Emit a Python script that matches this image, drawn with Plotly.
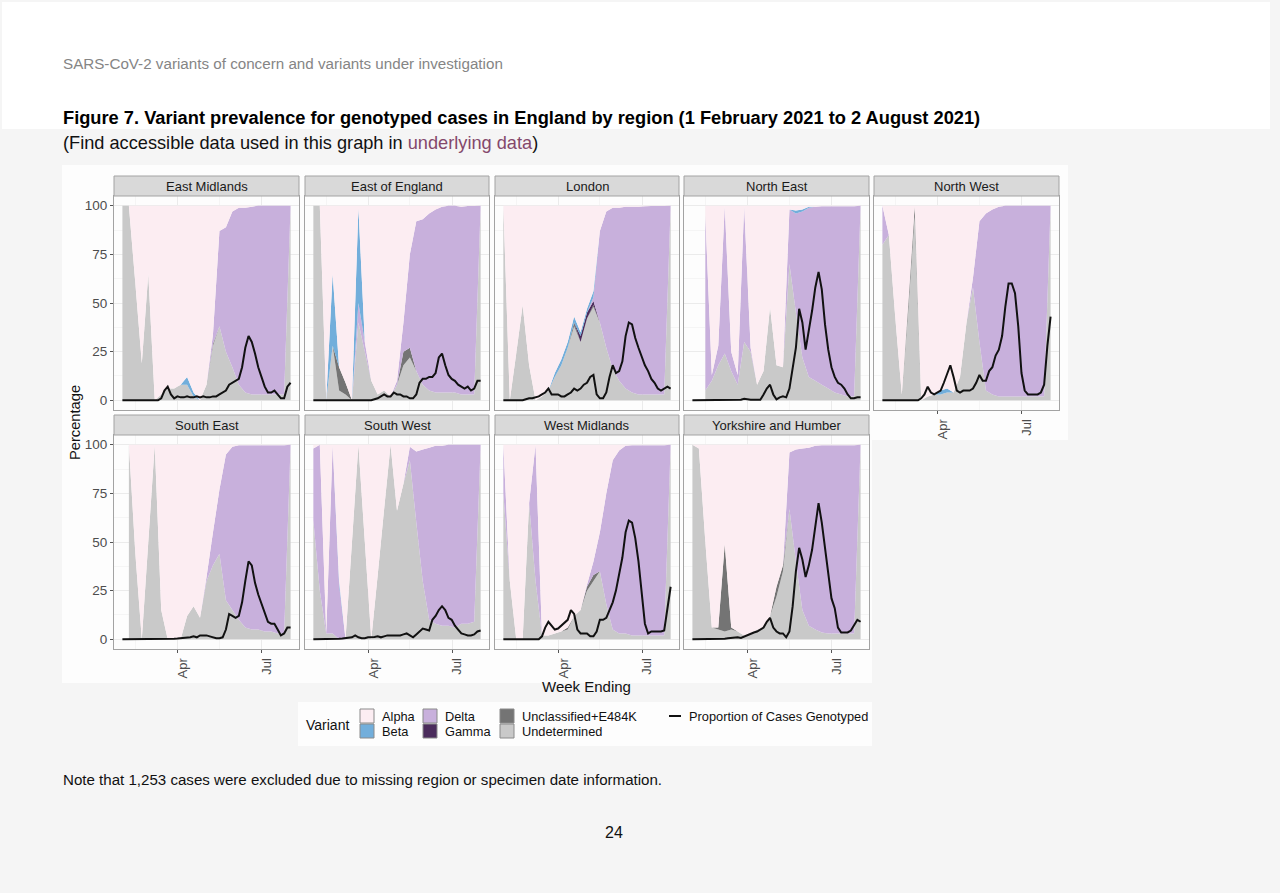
import plotly.graph_objects as go
import pandas as pd

# ---------------- data ----------------
REGIONS = ["East Midlands", "East of England", "London", "North East", "North West",
           "South East", "South West", "West Midlands", "Yorkshire and Humber"]
WEEKS = pd.date_range("2021-01-31", periods=27, freq="7D")
LINE_DATES = pd.date_range("2021-01-31", "2021-08-01", periods=53)
X_RANGE = ["2021-01-21 21:36", "2021-08-10 02:24"]
X_TICKS = ["2021-04-01", "2021-07-01"]
X_TICK_TEXT = ["Apr", "Jul"]
X_MINOR = ["2021-02-14", "2021-05-16"]
Y_TICKS = [0, 25, 50, 75, 100]
Y_MINOR = [12.5, 37.5, 62.5, 87.5]
N = None

EM_UNDET = [100, 100, 60, 19, 65, 0, 3, 6, 6, 8, 8, 2, 0, 8, 28, 38, 25, 17, 8, 4, 3, 3, 3, 3, 3, 3, 100]
EM_UNCL = [0, 0, 0, 0, 0, 0, 0, 0, 0, 0, 0, 0, 0, 0, 1, 0, 0, 0, 0, 0, 0, 0, 0, 0, 0, 0, 0]
EM_GAMMA = [0, 0, 0, 0, 0, 0, 0, 0, 0, 0, 0, 0, 0, 0, 0, 0, 0, 0, 0, 0, 0, 0, 0, 0, 0, 0, 0]
EM_DELTA = [0, 0, 0, 0, 0, 0, 0, 0, 0, 0, 0, 0, 0, 0, 5, 49, 64, 80, 91, 95, 96.5, 97, 97, 97, 97, 97, 0]
EM_BETA = [0, 0, 0, 0, 0, 0, 0, 0, 0, 0, 4, 2, 0, 0, 0, 0, 0, 0, 0, 0, 0, 0, 0, 0, 0, 0, 0]
EM_LINE = [0, 0, 0, 0, 0, 0, 0, 0, 0, 0, 0, 0, 1, 5, 7, 3, 1, 2, 1.5, 1.5, 2, 1.5, 1.5, 2, 1.5, 2, 1.5,
           1.5, 2, 2, 3, 4, 5, 8, 9, 10, 11, 17, 27, 33, 30, 24, 17, 12, 7, 4, 4, 5, 3, 1, 1, 7, 9]

EE_UNDET = [100, 100, 0, 28, 5, 3, 0, 40, 25, 10, 3, 5, 2, 8, 18, 22, 15, 8, 5, 4, 4, 4, 4, 3, 3, 3, 100]
EE_UNCL = [0, 0, 0, 0, 12, 6, 0, 0, 0, 0, 0, 0, 0, 0, 7, 5, 0, 0, 0, 0, 0, 0, 0, 0, 0, 0, 0]
EE_GAMMA = [0, 0, 0, 0, 0, 0, 0, 0, 0, 0, 0, 0, 0, 0, 0, 0, 0, 0, 0, 0, 0, 0, 0, 0, 0, 0, 0]
EE_DELTA = [0, 0, 0, 0, 0, 0, 0, 10, 5, 0, 0, 0, 0, 2, 15, 48, 77, 85, 91, 94, 95.5, 96, 96, 96.5, 96.8, 96.8, 0]
EE_BETA = [0, 0, 0, 37, 0, 0, 0, 49, 0, 0, 0, 0, 0, 0, 0, 0, 0, 0, 0, 0, 0, 0, 0, 0, 0, 0, 0]
EE_LINE = [0, 0, 0, 0, 0, 0, 0, 0, 0, 0, 0, 0, 0, 0, 0, 0, 0, 0, 0, 0.5, 1, 2, 3, 2, 2, 4, 3,
           3, 2, 2, 1, 1, 3, 9, 11, 11, 12, 12, 14, 22, 24, 18, 13, 11, 10, 8, 7, 6, 7, 5, 6, 10, 10]

LON_UNDET = [100, 0, 24, 49, 18, 0, 2, 5, 12, 18, 27, 38, 30, 42, 48, 40, 27, 16, 10, 6, 4, 3, 3, 3, 3, 3, 100]
LON_UNCL = [0, 0, 0, 0, 0, 0, 0, 0, 0, 0, 0, 2, 0, 0, 1, 0, 0, 0, 0, 0, 0, 0, 0, 0, 0, 0, 0]
LON_GAMMA = [0, 0, 0, 0, 0, 0, 0, 0, 0, 0, 0, 0, 3, 3, 2, 0, 0, 0, 0, 0, 0, 0, 0, 0, 0, 0, 0]
LON_DELTA = [0, 0, 0, 0, 0, 0, 0, 0, 0, 0, 0, 0, 0, 0, 2, 47, 70, 83, 89, 93.5, 95.5, 96.5, 96.7, 96.8, 96.8, 96.8, 0]
LON_BETA = [0, 0, 0, 0, 0, 0, 0, 0, 2, 3, 3, 3, 2, 2, 3, 0, 0, 0, 0, 0, 0, 0, 0, 0, 0, 0, 0]
LON_LINE = [0, 0, 0, 0, 0, 0, 0, 0.5, 1, 1, 1.5, 2, 3, 4, 6, 3, 3, 3, 2, 2, 3, 4, 6, 5, 6, 8, 9,
            12, 13, 3, 1, 1, 4, 12, 18, 14, 15, 20, 33, 40, 39, 32, 27, 22, 18, 15, 11, 9, 6, 5, 6, 7, 6]

NE_UNDET = [N, N, 5, 10, 18, 24, 15, 8, 30, 25, 8, 15, 48, 18, 17, 70, 45, 22, 12, 10, 8, 6, 4, 3, 2, 2, 100]
NE_UNCL = [N, N, 0, 0, 0, 0, 0, 0, 0, 0, 0, 0, 0, 0, 0, 0, 0, 0, 0, 0, 0, 0, 0, 0, 0, 0, 0]
NE_GAMMA = [N, N, 0, 0, 0, 0, 0, 0, 0, 0, 0, 0, 0, 0, 0, 0, 0, 0, 0, 0, 0, 0, 0, 0, 0, 0, 0]
NE_DELTA = [N, N, 90, 3, 10, 76, 10, 5, 70, 2, 0, 0, 0, 0, 0, 28, 51, 75, 87, 89.5, 91.7, 93.7, 95.7, 96.7, 97.7, 97.7, 0]
NE_BETA = [N, N, 0, 0, 0, 0, 0, 0, 0, 0, 0, 0, 0, 0, 0, 0, 1.5, 1, 0.5, 0, 0, 0, 0, 0, 0, 0, 0]
NE_LINE = [0, 0, 0, 0, 0, 0, 0, 0, 0, 0, 0, 0, 0, 0, 0, 0.3, 0.8, 0.5, 0.3, 0.3, 0.3, 0.3, 3, 6, 8, 3, 0.5,
           1.5, 2, 1.5, 6, 16, 27, 47, 40, 26, 35, 46, 58, 66, 57, 39, 26, 17, 12, 9, 8, 6, 3, 1, 1, 1.5, 1.5]

NW_UNDET = [80, 85, 42, 3, 46, 95, 0, 2, 3, 3, 4, 4, 12, 40, 58, 30, 5, 3, 2, 2, 2, 2, 2, 2, 2, 2, 100]
NW_UNCL = [0, 0, 0, 0, 4, 5, 0, 0, 0, 0, 0, 0, 0, 0, 0, 0, 0, 0, 0, 0, 0, 0, 0, 0, 0, 0, 0]
NW_GAMMA = [0, 0, 0, 0, 0, 0, 0, 0, 0, 0, 0, 0, 0, 0, 0, 0, 0, 0, 0, 0, 0, 0, 0, 0, 0, 0, 0]
NW_DELTA = [20, 0, 0, 0, 0, 0, 0, 0, 0, 0, 0, 0, 0, 0, 5, 62, 91, 95, 97.5, 98, 98, 98, 98, 98, 98, 98, 0]
NW_BETA = [0, 0, 0, 0, 0, 0, 0, 0, 0, 2, 2, 0, 0, 0, 0, 0, 0, 0, 0, 0, 0, 0, 0, 0, 0, 0, 0]
NW_LINE = [0, 0, 0, 0, 0, 0, 0, 0, 0, 0, 0, 0, 1, 3, 7, 4, 3, 4, 5, 9, 13, 18, 12, 5, 4, 5, 5,
           5, 6, 9, 13, 10, 10, 15, 17, 23, 26, 33, 48, 60, 60, 55, 38, 14, 5, 3, 3, 3, 3, 4, 8, 28, 43]

SE_UNDET = [N, 100, 44, 0, 50, 100, 15, 0, 0, 0, 12, 17, 11, 30, 38, 44, 20, 15, 10, 6, 5, 5, 4, 4, 3, 3, 100]
SE_UNCL = [N, 0, 0, 0, 0, 0, 0, 0, 0, 0, 0, 0, 0, 0, 0, 0, 0, 0, 0, 0, 0, 0, 0, 0, 0, 0, 0]
SE_GAMMA = [N, 0, 0, 0, 0, 0, 0, 0, 0, 0, 0, 0, 0, 0, 0, 0, 0, 0, 0, 0, 0, 0, 0, 0, 0, 0, 0]
SE_DELTA = [N, 0, 0, 0, 0, 0, 0, 0, 0, 0, 0, 0, 0, 2, 17, 33, 75, 84, 89.7, 93.7, 94.7, 94.7, 95.7, 95.7, 96.7, 96.7, 0]
SE_BETA = [N, 0, 0, 0, 0, 0, 0, 0, 0, 0, 0, 0, 0, 0, 0, 0, 0, 0, 0, 0, 0, 0, 0, 0, 0, 0, 0]
SE_LINE = [0, 0, 0, 0, 0, 0, 0, 0, 0, 0, 0, 0, 0, 0.2, 0.2, 0.3, 0.3, 0.4, 0.5, 0.7, 1, 1, 1.5, 1, 2, 2, 2,
           1.5, 1, 0.5, 0.5, 1, 5, 13, 12, 11, 12, 19, 30, 40, 38, 29, 23, 18, 13, 9, 8, 8, 5, 2, 3, 6, 6]

SW_UNDET = [61, 25, 3, 3, 0, 0, 50, 100, 50, 0, 33, 67, 100, 66, 80, 92, 60, 30, 10, 8, 7, 7, 6, 8, 8, 9, 100]
SW_UNCL = [0, 0, 0, 0, 0, 0, 0, 0, 0, 0, 0, 0, 0, 0, 0, 0, 0, 0, 0, 0, 0, 0, 0, 0, 0, 0, 0]
SW_GAMMA = [0, 0, 0, 0, 0, 0, 0, 0, 0, 0, 0, 0, 0, 0, 0, 0, 0, 0, 0, 0, 0, 0, 0, 0, 0, 0, 0]
SW_DELTA = [37, 75, 0, 97, 28, 0, 0, 0, 0, 0, 0, 0, 0, 0, 0, 7, 36.5, 67.5, 88.5, 91.5, 92.5, 93, 94, 92, 92, 91, 0]
SW_BETA = [0, 0, 0, 0, 2, 0, 0, 0, 0, 0, 0, 0, 0, 0, 0, 0, 0, 0, 0, 0, 0, 0, 0, 0, 0, 0, 0]
SW_LINE = [0, 0, 0, 0, 0, 0, 0, 0.2, 0.3, 0.4, 0.5, 0.8, 1, 2, 1, 0.5, 0.5, 1, 1, 1.2, 1.5, 1, 1.5, 2, 2, 2, 2,
           2, 2.5, 3, 2, 1, 2.5, 4, 5.5, 5, 4.5, 10, 12, 15, 17, 15, 11, 10, 7, 5, 3, 2.5, 2, 2, 2.5, 4, 4.5]

WM_UNDET = [75, 30, 0, 0, 70, 30, 2, 2, 3, 4, 5, 12, 15, 25, 30, 35, 18, 5, 3, 3, 2, 2, 2, 2, 2, 2, 100]
WM_UNCL = [0, 0, 0, 0, 0, 0, 0, 0, 0, 0, 1, 0, 0, 2, 3, 0, 0, 0, 0, 0, 0, 0, 0, 0, 0, 0, 0]
WM_GAMMA = [0, 0, 0, 0, 0, 0, 0, 0, 0, 0, 0, 0, 0, 0, 0, 0, 0, 0, 0, 0, 0, 0, 0, 0, 0, 0, 0]
WM_DELTA = [25, 0, 0, 0, 0, 70, 0, 0, 0, 0, 0, 0, 0, 1, 7, 20, 57, 87, 94, 96.5, 97.7, 97.7, 97.7, 97.7, 97.7, 97.7, 0]
WM_BETA = [0, 0, 0, 0, 0, 0, 0, 0, 0, 0, 0, 0, 0, 0, 0, 0, 0, 0, 0, 0, 0, 0, 0, 0, 0, 0, 0]
WM_LINE = [0, 0, 0, 0, 0, 0, 0, 0, 0, 0, 0, 0, 1.5, 6, 9, 7, 5, 5.5, 7, 9, 10, 15, 13, 5, 3, 3, 3,
           1.5, 1.5, 4, 10, 10, 11, 15, 19, 25, 33, 42, 55, 61, 60, 52, 40, 25, 8, 3, 4, 4, 4, 4, 4.5, 15, 27]

YH_UNDET = [100, 98, 50, 6, 5, 4, 5, 4, 2, 3, 5, 6, 12, 22, 35, 67, 40, 15, 7, 5, 3.5, 3, 3, 3, 3, 3, 100]
YH_UNCL = [0, 0, 0, 0, 1, 45, 1, 0, 0, 0, 0, 0, 0, 5, 3, 0, 0, 0, 0, 0, 0, 0, 0, 0, 0, 0, 0]
YH_GAMMA = [0, 0, 0, 0, 0, 0, 0, 0, 0, 0, 0, 0, 0, 0, 0, 0, 0, 0, 0, 0, 0, 0, 0, 0, 0, 0, 0]
YH_DELTA = [0, 0, 0, 0, 0, 0, 0, 0, 0, 0, 0, 0, 0, 0, 0, 29, 57.5, 83, 91.5, 94.5, 96.2, 96.7, 96.7, 96.7, 96.7, 96.7, 0]
YH_BETA = [0, 0, 0, 0, 0, 0, 0, 0, 0, 0, 0, 0, 0, 0, 0, 0, 0, 0, 0, 0, 0, 0, 0, 0, 0, 0, 0]
YH_LINE = [0, 0, 0, 0, 0, 0, 0, 0, 0, 0, 0.3, 0.5, 0.7, 0.8, 1, 0.7, 1.5, 2, 3, 3.5, 4, 5, 6, 9, 11, 6, 4,
           3, 3, 1, 4, 17, 35, 47, 41, 32, 38, 46, 57, 70, 60, 47, 32, 21, 16, 6, 3.5, 3.5, 3.5, 4.5, 7, 10, 9]

SERIES = {
    "East Midlands": (EM_UNDET, EM_UNCL, EM_GAMMA, EM_DELTA, EM_BETA, EM_LINE),
    "East of England": (EE_UNDET, EE_UNCL, EE_GAMMA, EE_DELTA, EE_BETA, EE_LINE),
    "London": (LON_UNDET, LON_UNCL, LON_GAMMA, LON_DELTA, LON_BETA, LON_LINE),
    "North East": (NE_UNDET, NE_UNCL, NE_GAMMA, NE_DELTA, NE_BETA, NE_LINE),
    "North West": (NW_UNDET, NW_UNCL, NW_GAMMA, NW_DELTA, NW_BETA, NW_LINE),
    "South East": (SE_UNDET, SE_UNCL, SE_GAMMA, SE_DELTA, SE_BETA, SE_LINE),
    "South West": (SW_UNDET, SW_UNCL, SW_GAMMA, SW_DELTA, SW_BETA, SW_LINE),
    "West Midlands": (WM_UNDET, WM_UNCL, WM_GAMMA, WM_DELTA, WM_BETA, WM_LINE),
    "Yorkshire and Humber": (YH_UNDET, YH_UNCL, YH_GAMMA, YH_DELTA, YH_BETA, YH_LINE),
}

COLORS = {
    "Alpha": "#fcedf2",
    "Beta": "#72aedb",
    "Delta": "#c8b0dc",
    "Gamma": "#4b2c5c",
    "Unclassified+E484K": "#747474",
    "Undetermined": "#c9c9c9",
}

# ---------------- layout geometry (pixels) ----------------
W, H = 1280, 893
COLS = [(114, 299), (305, 489), (495, 679), (684, 869), (874, 1059)]
ROWS = [(196, 410), (435, 649)]
STRIPS = [(176, 196), (415, 435)]
FONT = "Liberation Sans, Arial, Helvetica, sans-serif"
BORDER = "#a3a3a3"


def px(x):
    return x / W


def py(y):
    return 1 - y / H


fig = go.Figure()
shapes = []
annotations = []

# page background pieces
shapes.append(dict(type="rect", xref="paper", yref="paper", x0=px(2), x1=px(1270), y0=py(129), y1=py(2),
                   fillcolor="white", line=dict(width=0), layer="below"))
shapes.append(dict(type="rect", xref="paper", yref="paper", x0=px(62), x1=px(1068), y0=py(440), y1=py(165),
                   fillcolor="#fdfdfd", line=dict(width=0), layer="below"))
shapes.append(dict(type="rect", xref="paper", yref="paper", x0=px(62), x1=px(872), y0=py(683), y1=py(440),
                   fillcolor="#fdfdfd", line=dict(width=0), layer="below"))

for i, region in enumerate(REGIONS):
    row, col = (0, i) if i < 5 else (1, i - 5)
    undet, uncl, gamma, delta, beta, line = SERIES[region]
    keep = [k for k, v in enumerate(undet) if v is not None]
    xs = [WEEKS[k] for k in keep]
    u = [undet[k] for k in keep]
    c = [uncl[k] for k in keep]
    g = [gamma[k] for k in keep]
    d = [delta[k] for k in keep]
    b = [beta[k] for k in keep]
    a = [max(0.0, 100 - (u[j] + c[j] + g[j] + d[j] + b[j])) for j in range(len(keep))]
    xa = "x" if i == 0 else f"x{i + 1}"
    ya = "y" if i == 0 else f"y{i + 1}"
    for name, vals in [("Undetermined", u), ("Unclassified+E484K", c), ("Gamma", g),
                       ("Delta", d), ("Beta", b), ("Alpha", a)]:
        fig.add_trace(go.Scatter(x=xs, y=vals, stackgroup=f"s{i}", mode="none",
                                 fillcolor=COLORS[name], xaxis=xa, yaxis=ya,
                                 showlegend=False, hoverinfo="skip"))
    fig.add_trace(go.Scatter(x=LINE_DATES, y=line, mode="lines",
                             line=dict(color="#111111", width=2), xaxis=xa, yaxis=ya,
                             showlegend=False, hoverinfo="skip"))

    x0, x1 = COLS[col]
    y0, y1 = ROWS[row]
    show_x = (row == 1) or (i == 4)
    show_y = (col == 0)
    xkey = "xaxis" if i == 0 else f"xaxis{i + 1}"
    ykey = "yaxis" if i == 0 else f"yaxis{i + 1}"
    fig.update_layout(**{
        xkey: dict(domain=[px(x0), px(x1)], anchor=ya, type="date", range=X_RANGE,
                   tickmode="array", tickvals=X_TICKS, ticktext=X_TICK_TEXT,
                   showticklabels=show_x, ticks="outside" if show_x else "", ticklen=3,
                   tickcolor="#555555", tickangle=-90, ticklabelshift=5,
                   tickfont=dict(family=FONT, size=13, color="#4d4d4d"),
                   showgrid=True, gridcolor="#ebebeb", gridwidth=1,
                   minor=dict(tickmode="array", tickvals=X_MINOR, showgrid=True, gridcolor="#f5f5f5"),
                   showline=True, mirror=True, linecolor=BORDER, linewidth=1,
                   zeroline=False, fixedrange=True),
        ykey: dict(domain=[py(y1), py(y0)], anchor=xa, range=[-5, 105],
                   tickmode="array", tickvals=Y_TICKS, ticktext=[str(t) for t in Y_TICKS],
                   showticklabels=show_y, ticks="outside" if show_y else "", ticklen=3,
                   tickcolor="#555555", tickfont=dict(family=FONT, size=13.5, color="#4d4d4d"),
                   showgrid=True, gridcolor="#ebebeb", gridwidth=1,
                   minor=dict(tickmode="array", tickvals=Y_MINOR, showgrid=True, gridcolor="#f5f5f5"),
                   showline=True, mirror=True, linecolor=BORDER, linewidth=1,
                   zeroline=False, fixedrange=True),
    })
    s0, s1 = STRIPS[row]
    shapes.append(dict(type="rect", xref="paper", yref="paper", x0=px(x0), x1=px(x1),
                       y0=py(s1), y1=py(s0), fillcolor="#d9d9d9",
                       line=dict(color=BORDER, width=1)))
    annotations.append(dict(text=region, xref="paper", yref="paper", x=px((x0 + x1) / 2),
                            y=py((s0 + s1) / 2 + 0.5), xanchor="center", yanchor="middle",
                            showarrow=False, font=dict(family=FONT, size=13, color="#1a1a1a")))


# ---------------- texts ----------------
def label(text, x, y, size, color="#000000", anchor="left", angle=0):
    annotations.append(dict(text=text, xref="paper", yref="paper", x=px(x), y=py(y),
                            xanchor=anchor, yanchor="middle", showarrow=False, textangle=angle,
                            font=dict(family=FONT, size=size, color=color)))


label("SARS-CoV-2 variants of concern and variants under investigation", 61, 63, 15.2, "#858585")
label("<b>Figure 7. Variant prevalence for genotyped cases in England by region (1 February 2021 to 2 August 2021)</b>",
      61, 118, 18.25)
label("(Find accessible data used in this graph in <span style='color:#84486b'>underlying data</span>)",
      61, 143, 18.2, "#111111")
label("Percentage", 75, 423, 14.7, "#111111", anchor="center", angle=-90)
label("Week Ending", 586, 686, 15, "#111111", anchor="center")
label("Note that 1,253 cases were excluded due to missing region or specimen date information.",
      61, 779, 15.1, "#111111")
label("24", 614, 832, 16, "#111111", anchor="center")

# ---------------- legend ----------------
shapes.append(dict(type="rect", xref="paper", yref="paper", x0=px(298), x1=px(872), y0=py(746), y1=py(702),
                   fillcolor="#fdfdfd", line=dict(width=0), layer="below"))
label("Variant", 304, 725, 14, "#111111")
LEGEND_KEYS = [("Alpha", 360, 716), ("Beta", 360, 731), ("Delta", 423, 716), ("Gamma", 423, 731),
               ("Unclassified+E484K", 500, 716), ("Undetermined", 500, 731)]
for name, lx, ly in LEGEND_KEYS:
    shapes.append(dict(type="rect", xref="paper", yref="paper", x0=px(lx), x1=px(lx + 14),
                       y0=py(ly + 7), y1=py(ly - 7), fillcolor=COLORS[name],
                       line=dict(color="#8a8a8a", width=1)))
    label(name, lx + 20, ly, 12.8, "#111111")
shapes.append(dict(type="line", xref="paper", yref="paper", x0=px(669), x1=px(681), y0=py(716), y1=py(716),
                   line=dict(color="#111111", width=2)))
label("Proportion of Cases Genotyped", 687, 716, 12.8, "#111111")

fig.update_layout(
    width=W, height=H, margin=dict(l=0, r=0, t=0, b=0),
    paper_bgcolor="#f5f5f5", plot_bgcolor="white",
    shapes=shapes, annotations=annotations, showlegend=False,
    font=dict(family=FONT),
)

fig.write_html("out.html", config={"displayModeBar": False},
               post_script="document.body.style.margin='0';")
